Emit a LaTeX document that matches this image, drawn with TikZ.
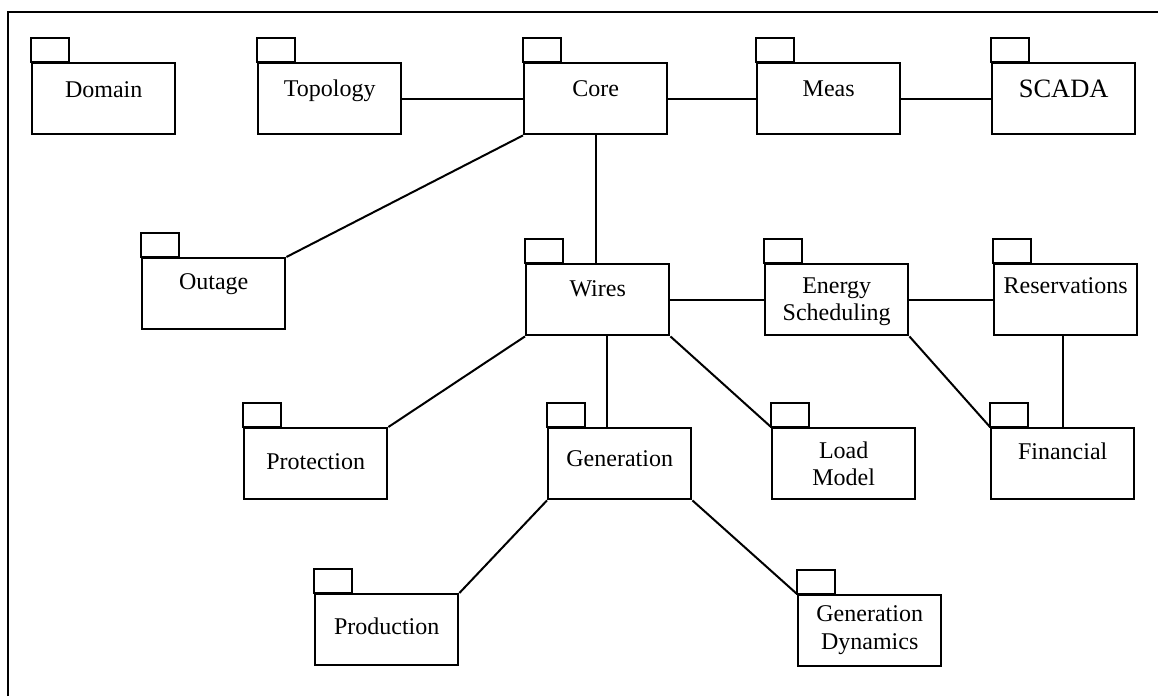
\documentclass[tikz,border=0pt]{standalone}
\usepackage{fontspec}
\setmainfont{Liberation Serif}
\usetikzlibrary{calc}
\tikzset{
  pkgbox/.style={draw, line width=2.4pt, minimum width=143pt, minimum height=71pt, anchor=north west, inner sep=0pt},
  pkgtab/.style={draw, line width=2.2pt},
  pkglabel/.style={anchor=base, font=\fontsize{24}{27.5}\selectfont, inner sep=0pt, align=center},
  conn/.style={line width=2pt},
  framel/.style={line width=2.2pt}
}
\newcommand{\pkgnode}[5]{%
  \node[pkgbox] (#1) at (#2,#3) {};
  \draw[pkgtab] (#1.north west) rectangle ++(38,-24);
  \node[pkglabel] (#1-l) at ($(#1.north)+(0,#4)$) {#5};
}
\begin{document}
\begin{tikzpicture}[x=1pt,y=-1pt]
\useasboundingbox (0,0) rectangle (1158,696);
\draw[framel] (8,696) -- (8,12) -- (1158,12);

\pkgnode{domain}{31}{62}{35}{Domain}
\pkgnode{topology}{257}{62}{34}{Topology}
\pkgnode{core}{523}{62}{34}{Core}
\pkgnode{meas}{756}{62}{34}{Meas}
\pkgnode{scada}{991}{62}{35}{\fontsize{26.5}{30}\selectfont SCADA}
\pkgnode{outage}{141}{257}{32}{Outage}
\pkgnode{wires}{525}{263}{33}{Wires}
\pkgnode{energy}{764}{263}{57.5}{Energy\\Scheduling}
\pkgnode{reserv}{993}{263}{30}{Reservations}
\pkgnode{protection}{243}{427}{42}{Protection}
\pkgnode{generation}{547}{427}{39}{Generation}
\pkgnode{load}{771}{427}{58.5}{Load\\Model}
\pkgnode{financial}{990}{427}{32}{Financial}
\pkgnode{production}{314}{593}{41}{Production}
\pkgnode{gendyn}{797}{594}{55}{Generation\\Dynamics}

\draw[conn] (topology.east) -- (core.west);
\draw[conn] (core.east) -- (meas.west);
\draw[conn] (meas.east) -- (scada.west);
\draw[conn] (core.south west) -- (outage.north east);
\draw[conn] (core.south) -- (core.south |- wires.north);
\draw[conn] (wires.east) -- (energy.west);
\draw[conn] (energy.east) -- (reserv.west);
\draw[conn] (financial.north |- reserv.south) -- (financial.north);
\draw[conn] (energy.south east) -- (financial.north west);
\draw[conn] (wires.south west) -- (protection.north east);
\draw[conn] ([xshift=-12.5pt]generation.north |- wires.south) -- ([xshift=-12.5pt]generation.north);
\draw[conn] (wires.south east) -- (load.north west);
\draw[conn] (generation.south west) -- (production.north east);
\draw[conn] (generation.south east) -- (gendyn.north west);
\end{tikzpicture}
\end{document}
